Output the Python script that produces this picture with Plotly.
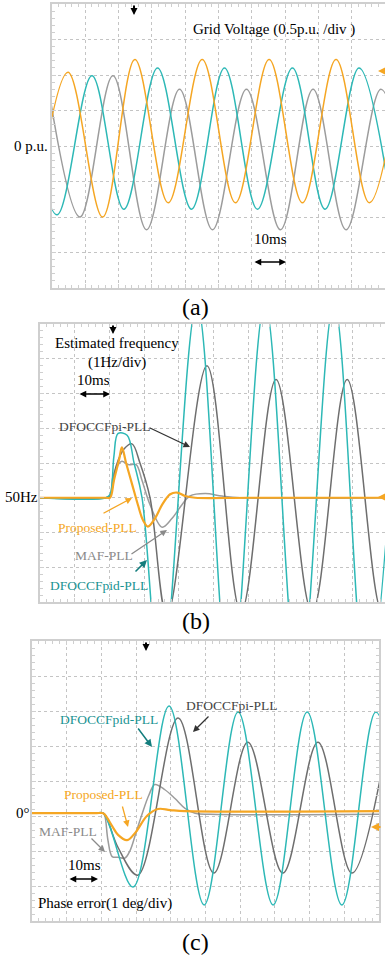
import plotly.graph_objects as go

W, H = 385, 957
FONT = "Liberation Serif"

ORANGE = "#F5A623"
CYAN = "#2DB8B6"
TEAL_TXT = "#1A9392"
TEAL_ARR = "#137D7D"
GRAY_DARK = "#6E6E6E"
GRAY_LIGHT = "#9C9C9C"
GRID = "#C4C4C4"
BORDER = "#CFCFCF"

# ---------------- Panel (a): grid voltage (ms, p.u.) - extrema read from scope
va_t = [-5.3, 4.8, 15.2, 24.9, 34.9, 45.1, 55.1, 65.2, 75.2, 85.3, 95.3, 105.3]
va_v = [-1.00, 1.04, -1.00, 1.22, -0.80, 1.22, -0.80, 1.22, -0.80, 1.22, -0.80, 1.22]
vb_t = [-1.65, 8.4, 18.3, 28.4, 38.3, 48.2, 58.4, 68.6, 78.4, 88.3, 98.8, 108.7]
vb_v = [0.99, -1.00, 0.99, -1.18, 0.80, -1.18, 0.80, -1.18, 0.80, -1.18, 0.80, -1.18]
vc_t = [-8.7, 1.5, 12.0, 21.6, 31.7, 41.9, 51.8, 61.7, 72.2, 82.0, 92.2, 102.1]
vc_v = [0.99, -0.97, 0.99, -0.89, 1.10, -0.89, 1.10, -0.89, 1.10, -0.89, 1.10, -0.89]

# ---------------- Panel (b): estimated frequency (ms, Hz)
fb_prop_t = [0, 19.0, 20.2, 21.3, 22.8, 23.6, 24.8, 26.5, 28.2, 29.7, 31.1, 33.1, 35.2, 37.5, 39.5, 41.8, 44.7, 60, 100]
fb_prop = [50, 50, 50, 50.5, 51.1, 51.45, 51.0, 50.4, 49.8, 49.35, 49.17, 49.4, 49.8, 50.1, 50.15, 50.05, 50.0, 50.0, 50.0]
fb_pid_t = [0, 19.0, 20.2, 21.3, 22.5, 25.1, 27.1, 29.4, 34.9, 45.2, 54.8, 64.8, 74.6, 84.7, 94.2, 104.3]
fb_pid = [50, 50, 50.1, 51.2, 51.85, 51.8, 51.0, 50.0, 44.6, 55.6, 44.4, 55.6, 44.4, 55.6, 44.4, 55.6]
fb_pi_t = [0, 19.0, 20.2, 21.9, 24.2, 26.5, 28.8, 31.7, 36.6, 48.1, 57.9, 68.0, 78.4, 88.5, 98.6, 108.4]
fb_pi = [50, 50, 50.05, 50.9, 51.4, 51.55, 51.0, 50.0, 46.6, 53.8, 46.7, 53.4, 46.7, 53.4, 46.7, 53.4]
fb_maf_t = [0, 19.0, 20.2, 21.0, 22.5, 23.6, 25.6, 27.7, 29.4, 31.7, 35.2, 38.0, 40.9, 43.2, 47.6, 52.4, 57.6, 100]
fb_maf = [50, 50, 50.05, 50.6, 50.95, 51.05, 50.95, 50.95, 50.5, 49.8, 49.15, 49.4, 49.8, 50.05, 50.12, 50.05, 50.0, 50.0]

# ---------------- Panel (c): phase error (ms, deg)
pe_prop_t = [0, 18.2, 20.5, 21.3, 23.1, 24.8, 27.4, 29.9, 33.1, 36.3, 39.8, 44.1, 100]
pe_prop = [0.08, 0.08, 0.08, 0.0, -0.29, -0.54, -0.69, -0.46, 0.0, 0.2, 0.17, 0.14, 0.14]
pe_maf_t = [0, 18.2, 20.5, 21.0, 21.9, 23.1, 24.8, 26.8, 28.2, 29.9, 31.7, 33.7, 35.4, 38.3, 41.2, 44.1, 47.0, 51.3, 100]
pe_maf = [0.08, 0.08, 0.08, 0.0, -0.7, -1.16, -1.18, -1.2, -1.0, -0.5, 0.05, 0.6, 0.9, 0.75, 0.5, 0.22, 0.08, 0.05, 0.05]
pe_pi_t = [0, 18.2, 20.5, 21.3, 24.8, 30.5, 42.1, 52.4, 62.2, 72.3, 82.4, 92.2, 102.3]
pe_pi = [0.08, 0.08, 0.08, 0.0, -0.9, -1.69, 2.8, -1.63, 2.11, -1.63, 2.11, -1.63, 2.11]
pe_pid_t = [0, 18.2, 20.5, 29.1, 39.5, 49.6, 59.4, 69.5, 79.3, 89.3, 99.1, 109.2]
pe_pid = [0.08, 0.08, 0.08, -2.03, 3.14, -2.54, 2.97, -2.54, 2.97, -2.54, 2.97, -2.54]

fig = go.Figure()


def line(x, y, color, ax, width=1.5):
    fig.add_trace(go.Scatter(x=x, y=y, mode="lines", xaxis="x" + ax, yaxis="y" + ax,
                             line=dict(color=color, width=width, shape="spline", smoothing=1.0),
                             hoverinfo="skip", showlegend=False))


# panel a
line(vb_t, vb_v, GRAY_LIGHT, "")
line(vc_t, vc_v, CYAN, "")
line(va_t, va_v, ORANGE, "")
# panel b
line(fb_maf_t, fb_maf, GRAY_LIGHT, "2")
line(fb_pi_t, fb_pi, GRAY_DARK, "2")
line(fb_pid_t, fb_pid, CYAN, "2")
line(fb_prop_t, fb_prop, ORANGE, "2", 2.2)
# panel c
line(pe_maf_t, pe_maf, GRAY_LIGHT, "3")
line(pe_pi_t, pe_pi, GRAY_DARK, "3")
line(pe_pid_t, pe_pid, CYAN, "3")
line(pe_prop_t, pe_prop, ORANGE, "3", 2.2)


def xax(domain, rng, anchor):
    return dict(domain=domain, range=rng, anchor=anchor, showgrid=True, gridcolor=GRID,
                griddash="dot", gridwidth=1, dtick=10, tick0=0, showticklabels=False,
                zeroline=False, showline=True, linecolor=BORDER, linewidth=2, mirror="ticks",
                ticks="inside", ticklen=4, tickcolor=BORDER,
                minor=dict(dtick=2, ticks="inside", ticklen=3, tickcolor=BORDER, showgrid=False),
                fixedrange=True)


def yax(domain, rng, dt, anchor, mirror):
    return dict(domain=domain, range=rng, anchor=anchor, showgrid=True, gridcolor=GRID,
                griddash="dot", gridwidth=1, dtick=dt, tick0=0, showticklabels=False,
                zeroline=False, showline=True, linecolor=BORDER, linewidth=2, mirror=mirror,
                ticks="inside", ticklen=4, tickcolor=BORDER,
                minor=dict(dtick=dt / 5, ticks="inside", ticklen=3, tickcolor=BORDER, showgrid=False),
                fixedrange=True)


def ydom(top, bottom):
    return [1 - bottom / H, 1 - top / H]


fig.update_layout(
    width=W, height=H, margin=dict(l=0, r=0, t=0, b=0),
    paper_bgcolor="white", plot_bgcolor="white",
    xaxis=xax([52 / W, 1.0], [0, 100], "y"),
    yaxis=yax(ydom(4, 288), [-2, 2], 0.5, "x", False),
    xaxis2=xax([40 / W, 1.0], [0, 99.4], "y2"),
    yaxis2=yax(ydom(324, 602), [47, 55], 1, "x2", False),
    xaxis3=xax([32 / W, 379 / W], [0, 100], "y3"),
    yaxis3=yax(ydom(641, 921), [-3, 5], 1, "x3", "ticks"),
)

ann = []


def text(px, py, s, color="black", size=15, xanchor="center"):
    ann.append(dict(x=px / W, y=1 - py / H, xref="paper", yref="paper", text=s, showarrow=False,
                    font=dict(family=FONT, size=size, color=color), xanchor=xanchor,
                    yanchor="middle"))


def arrow(hx, hy, tx, ty, color, width=1.3, side="end", size=1.0):
    ann.append(dict(x=hx / W, y=1 - hy / H, xref="paper", yref="paper", ax=tx - hx, ay=ty - hy,
                    axref="pixel", ayref="pixel", text="", showarrow=True, arrowhead=2,
                    startarrowhead=2, arrowsize=size, startarrowsize=size, arrowwidth=width,
                    arrowcolor=color, arrowside=side, standoff=0, startstandoff=0))


# panel a texts
text(274, 30, "Grid Voltage (0.5p.u. /div )")
text(50, 146, "0 p.u.", xanchor="right")
text(270, 239, "10ms")
arrow(286, 262, 253, 262, "black", 1.5, "end+start", 0.9)
text(196, 307, "(a)", size=24)
arrow(134, 15, 134, 4, "black", 2, "end", 0.7)
arrow(378, 71, 390, 71, ORANGE, 2, "end", 0.8)

# panel b texts
text(117, 343, "Estimated frequency")
text(117, 362, "(1Hz/div)")
text(93, 380, "10ms")
arrow(110, 394, 78, 394, "black", 1.5, "end+start", 0.9)
text(40, 497, "50Hz", xanchor="right")
text(57, 426, "DFOCCFpi-PLL", "#444444", 13.5, "left")
arrow(190, 447, 148, 427, "#333333", 1.3)
text(56, 527, "Proposed-PLL", ORANGE, 13.5, "left")
arrow(132, 498, 102, 514, ORANGE, 1.3)
text(73, 555, "MAF-PLL", "#8A8A8A", 13.5, "left")
arrow(167, 530, 130, 555, "#8A8A8A", 1.3)
text(48, 585, "DFOCCFpid-PLL", TEAL_TXT, 13.5, "left")
arrow(147, 560, 134, 573, TEAL_ARR, 1.5)
text(196, 621, "(b)", size=24)
arrow(113, 334, 113, 324, "black", 2, "end", 0.7)
arrow(378, 497, 390, 497, ORANGE, 2, "end", 0.8)

# panel c texts
text(58, 719, "DFOCCFpid-PLL", TEAL_TXT, 13.5, "left")
arrow(152, 747, 137, 727, TEAL_ARR, 1.5)
text(184, 705, "DFOCCFpi-PLL", "#444444", 13.5, "left")
arrow(193, 732, 210, 715, "#333333", 1.3)
text(62, 794, "Proposed-PLL", ORANGE, 13.5, "left")
arrow(128, 827, 122, 805, ORANGE, 1.3)
text(37, 831, "MAF-PLL", "#8A8A8A", 13.5, "left")
arrow(105, 852, 90, 837, "#8A8A8A", 1.3)
text(32, 813, "0°", xanchor="right")
text(84, 865, "10ms")
arrow(98, 879, 68, 879, "black", 1.5, "end+start", 0.9)
text(36, 903, "Phase error(1 deg/div)", xanchor="left")
text(196, 942, "(c)", size=24)
arrow(146, 651, 146, 641, "black", 2, "end", 0.7)
arrow(371, 827, 382, 827, ORANGE, 2, "end", 0.8)

fig.update_layout(annotations=ann)
fig.write_html("out.html")
